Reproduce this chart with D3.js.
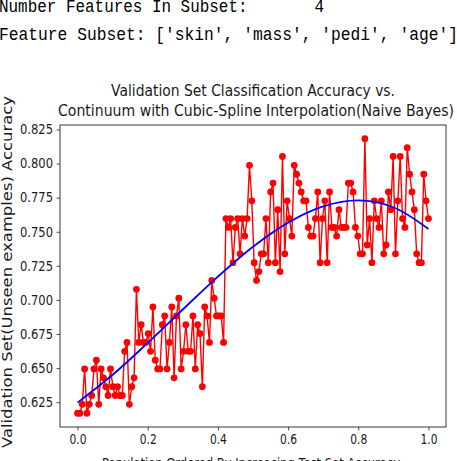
<!DOCTYPE html>
<html>
<head>
<meta charset="utf-8">
<script src="https://cdn.jsdelivr.net/npm/d3@7"></script>
<style>
    body { margin: 0; background: #fff; }
    .hdr { font-family: "Liberation Mono", "DejaVu Sans Mono", monospace; font-size: 19px; fill: #000; }
    .title { font-family: "DejaVu Sans", sans-serif; font-size: 16.5px; fill: #1a1a1a; }
    .lbl { font-family: "DejaVu Sans", sans-serif; font-size: 14px; fill: #1a1a1a; }
    .axis text { font-family: "DejaVu Sans", sans-serif; font-size: 13.5px; fill: #1a1a1a; }
    .axis path { display: none; }
    .axis line { stroke: #222; stroke-width: 0.8; }
</style>
</head>
<body>
<script>
// validation accuracy for each model, population ordered by test accuracy
var accuracy = [
    0.6169, 0.6169, 0.6234, 0.6494, 0.6169, 0.6234, 0.6299, 0.6494, 0.6558, 0.6234,
    0.6494, 0.6429, 0.6364, 0.6299, 0.6494, 0.6364, 0.6299, 0.6364, 0.6299, 0.6299,
    0.6623, 0.6688, 0.6234, 0.6364, 0.6429, 0.7078, 0.6688, 0.6818, 0.6688, 0.6688,
    0.6753, 0.6623, 0.6948, 0.6558, 0.6494, 0.6494, 0.6818, 0.6883, 0.6494, 0.6688,
    0.6948, 0.6429, 0.6883, 0.7013, 0.6494, 0.6623, 0.6818, 0.6623, 0.6623, 0.6883,
    0.6494, 0.6818, 0.6753, 0.6364, 0.6948, 0.6883, 0.6688, 0.7143, 0.7013, 0.6883,
    0.6883, 0.6883, 0.6688, 0.7597, 0.7532, 0.7597, 0.7273, 0.7532, 0.7597, 0.7338,
    0.7597, 0.7468, 0.7597, 0.7987, 0.7727, 0.7273, 0.7143, 0.7208, 0.7338, 0.7338,
    0.7597, 0.7273, 0.7792, 0.7857, 0.7273, 0.7662, 0.7208, 0.8052, 0.7338, 0.7727,
    0.7597, 0.7468, 0.7987, 0.7922, 0.7857, 0.7792, 0.7727, 0.7727, 0.7532, 0.7468,
    0.7468, 0.7597, 0.7792, 0.7273, 0.7597, 0.7727, 0.7273, 0.7792, 0.7532, 0.7532,
    0.7468, 0.7662, 0.7532, 0.7532, 0.7532, 0.7857, 0.7857, 0.7792, 0.7532, 0.7468,
    0.7338, 0.7338, 0.8182, 0.7403, 0.7597, 0.7273, 0.7727, 0.7597, 0.7532, 0.7727,
    0.7338, 0.7403, 0.7792, 0.7662, 0.8052, 0.7338, 0.7727, 0.8052, 0.7597, 0.7532,
    0.8117, 0.7922, 0.7792, 0.7662, 0.7338, 0.7273, 0.7273, 0.7922, 0.7727, 0.7597
];

var splineX = [0.0, 0.1, 0.2, 0.3, 0.4, 0.5, 0.6, 0.7, 0.8, 0.9, 1.0];
var splineY = [0.6247, 0.6451, 0.6685, 0.6930, 0.7171, 0.7390, 0.7567, 0.7686, 0.7730, 0.7680, 0.7520];

var xTicks = [0.0, 0.2, 0.4, 0.6, 0.8, 1.0];
var yTicks = [0.625, 0.650, 0.675, 0.700, 0.725, 0.750, 0.775, 0.800, 0.825];

var width = 457;
var height = 461;

var canvas = d3.select('body')
    .append('svg')
    .attr('width', width)
    .attr('height', height)

// notebook output above the figure
canvas.append('text')
    .attr('class', 'hdr')
    .attr('x', -1)
    .attr('y', 12)
    .attr('textLength', 325)
    .attr('lengthAdjust', 'spacingAndGlyphs')
    .attr('xml:space', 'preserve')
    .text('Number Features In Subset:       4')

canvas.append('text')
    .attr('class', 'hdr')
    .attr('x', -1)
    .attr('y', 40)
    .attr('textLength', 459)
    .attr('lengthAdjust', 'spacingAndGlyphs')
    .text("Feature Subset: ['skin', 'mass', 'pedi', 'age']")

// plot box
var boxLeft = 60, boxRight = 446, boxTop = 125, boxBottom = 427;

var widthScale = d3.scaleLinear()
    .domain([-0.05, 1.05])
    .range([boxLeft, boxRight])

var heightScale = d3.scaleLinear()
    .domain([0.6068, 0.8283])
    .range([boxBottom, boxTop])

var axisB = d3.axisBottom()
    .scale(widthScale)
    .tickValues(xTicks)
    .tickSize(3.5)
    .tickPadding(3.5)
    .tickFormat(d3.format('.1f'))

var axisL = d3.axisLeft()
    .scale(heightScale)
    .tickValues(yTicks)
    .tickSize(3.5)
    .tickPadding(3.5)
    .tickFormat(d3.format('.3f'))

canvas.append('g')
    .attr('class', 'axis axisB')
    .attr('transform', 'translate(0,' + boxBottom + ')')
    .call(axisB)
    .selectAll('text')
    .attr('textLength', 17)
    .attr('lengthAdjust', 'spacingAndGlyphs')

canvas.append('g')
    .attr('class', 'axis axisL')
    .attr('transform', 'translate(' + boxLeft + ',0)')
    .call(axisL)
    .selectAll('text')
    .attr('textLength', 33)
    .attr('lengthAdjust', 'spacingAndGlyphs')

// red accuracy line with dots
var line = d3.line()
    .x(function (d, i) { return widthScale(i / (accuracy.length - 1)); })
    .y(function (d) { return heightScale(d); })

canvas.append('path')
    .datum(accuracy)
    .attr('d', line)
    .attr('fill', 'none')
    .attr('stroke', '#ff0000')
    .attr('stroke-width', 1.4)

canvas.selectAll('circle.dot')
    .data(accuracy)
    .enter()
    .append('circle')
    .attr('class', 'dot')
    .attr('cx', function (d, i) { return widthScale(i / (accuracy.length - 1)); })
    .attr('cy', function (d) { return heightScale(d); })
    .attr('r', 3.4)
    .attr('fill', '#ff0000')

// blue spline
var spline = d3.line()
    .curve(d3.curveCatmullRom)
    .x(function (d, i) { return widthScale(splineX[i]); })
    .y(function (d) { return heightScale(d); })

canvas.append('path')
    .datum(splineY)
    .attr('d', spline)
    .attr('fill', 'none')
    .attr('stroke', '#0000ff')
    .attr('stroke-width', 1.8)

// frame
canvas.append('rect')
    .attr('x', boxLeft)
    .attr('y', boxTop)
    .attr('width', boxRight - boxLeft)
    .attr('height', boxBottom - boxTop)
    .attr('fill', 'none')
    .attr('stroke', '#222')
    .attr('stroke-width', 0.9)

// titles
canvas.append('text')
    .attr('class', 'title')
    .attr('x', 253)
    .attr('y', 96)
    .attr('text-anchor', 'middle')
    .attr('textLength', 284)
    .attr('lengthAdjust', 'spacingAndGlyphs')
    .text('Validation Set Classification Accuracy vs.')

canvas.append('text')
    .attr('class', 'title')
    .attr('x', 256)
    .attr('y', 116)
    .attr('text-anchor', 'middle')
    .attr('textLength', 396)
    .attr('lengthAdjust', 'spacingAndGlyphs')
    .text('Continuum with Cubic-Spline Interpolation(Naive Bayes)')

canvas.append('text')
    .attr('class', 'lbl')
    .attr('transform', 'translate(12,272) rotate(-90)')
    .attr('text-anchor', 'middle')
    .attr('textLength', 352)
    .attr('lengthAdjust', 'spacingAndGlyphs')
    .text('Validation Set(Unseen examples) Accuracy')

canvas.append('text')
    .attr('class', 'lbl')
    .attr('x', 251)
    .attr('y', 468)
    .attr('text-anchor', 'middle')
    .attr('textLength', 298)
    .attr('lengthAdjust', 'spacingAndGlyphs')
    .text('Population Ordered By Increasing Test Set Accuracy')
</script>
</body>
</html>
